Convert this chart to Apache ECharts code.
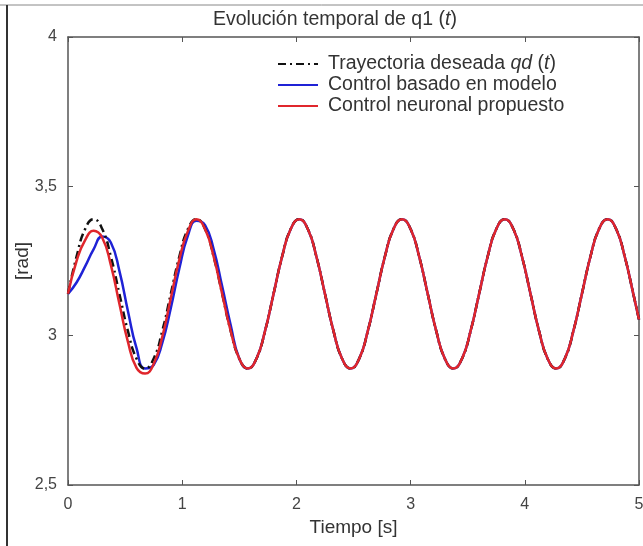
<!DOCTYPE html>
<html>
<head>
<meta charset="utf-8">
<script src="https://cdn.jsdelivr.net/npm/echarts@6/dist/echarts.min.js"></script>
<style>
  html, body { margin: 0; padding: 0; background: #fff; }
  #chart { width: 643px; height: 546px; }
</style>
</head>
<body>
<div id="chart"></div>
<script>
// tiempo [s]
var tiempo = [
  0, 0.075, 0.15, 0.225, 0.3, 0.375, 0.45, 0.525, 0.6, 0.675, 0.75, 0.825,
  0.9, 0.975, 1.05, 1.125, 1.2, 1.275, 1.35, 1.425, 1.5, 1.575, 1.65, 1.725,
  1.8, 1.875, 1.95, 2.025, 2.1, 2.175, 2.25, 2.325, 2.4, 2.475, 2.55, 2.625,
  2.7, 2.775, 2.85, 2.925, 3, 3.075, 3.15, 3.225, 3.3, 3.375, 3.45, 3.525,
  3.6, 3.675, 3.75, 3.825, 3.9, 3.975, 4.05, 4.125, 4.2, 4.275, 4.35, 4.425,
  4.5, 4.575, 4.65, 4.725, 4.8, 4.875, 4.95, 5
];

// trayectoria deseada qd(t) [rad]
var deseada = [
  3.14, 3.265, 3.357, 3.39, 3.357, 3.265, 3.14, 3.015, 2.923, 2.89, 2.923, 3.015,
  3.14, 3.265, 3.357, 3.39, 3.357, 3.265, 3.14, 3.015, 2.923, 2.89, 2.923, 3.015,
  3.14, 3.265, 3.357, 3.39, 3.357, 3.265, 3.14, 3.015, 2.923, 2.89, 2.923, 3.015,
  3.14, 3.265, 3.357, 3.39, 3.357, 3.265, 3.14, 3.015, 2.923, 2.89, 2.923, 3.015,
  3.14, 3.265, 3.357, 3.39, 3.357, 3.265, 3.14, 3.015, 2.923, 2.89, 2.923, 3.015,
  3.14, 3.265, 3.357, 3.39, 3.357, 3.265, 3.14, 3.054
];

// control basado en modelo [rad]
var modelo = [
  3.14, 3.178, 3.232, 3.29, 3.332, 3.312, 3.217, 3.082, 2.958, 2.89, 2.902, 2.975,
  3.092, 3.225, 3.335, 3.385, 3.37, 3.29, 3.165, 3.035, 2.923, 2.89, 2.923, 3.015,
  3.14, 3.265, 3.357, 3.39, 3.357, 3.265, 3.14, 3.015, 2.923, 2.89, 2.923, 3.015,
  3.14, 3.265, 3.357, 3.39, 3.357, 3.265, 3.14, 3.015, 2.923, 2.89, 2.923, 3.015,
  3.14, 3.265, 3.357, 3.39, 3.357, 3.265, 3.14, 3.015, 2.923, 2.89, 2.923, 3.015,
  3.14, 3.265, 3.357, 3.39, 3.357, 3.265, 3.14, 3.054
];

// control neuronal propuesto [rad]
var neuronal = [
  3.14, 3.25, 3.32, 3.351, 3.328, 3.237, 3.107, 2.979, 2.892, 2.873, 2.905, 2.995,
  3.125, 3.255, 3.35, 3.39, 3.357, 3.265, 3.14, 3.015, 2.923, 2.89, 2.923, 3.015,
  3.14, 3.265, 3.357, 3.39, 3.357, 3.265, 3.14, 3.015, 2.923, 2.89, 2.923, 3.015,
  3.14, 3.265, 3.357, 3.39, 3.357, 3.265, 3.14, 3.015, 2.923, 2.89, 2.923, 3.015,
  3.14, 3.265, 3.357, 3.39, 3.357, 3.265, 3.14, 3.015, 2.923, 2.89, 2.923, 3.015,
  3.14, 3.265, 3.357, 3.39, 3.357, 3.265, 3.14, 3.054
];

var nombres = ['Trayectoria deseada', 'Control basado en modelo', 'Control neuronal propuesto'];

function pares(ys) {
  return tiempo.map(function (t, i) { return [t, ys[i]]; });
}

var myChart = echarts.init(document.getElementById('chart'));
var fuente = '"Liberation Sans", Arial, sans-serif';
var gris = '#555';

var ejeX = {
  type: 'value', min: 0, max: 5, interval: 1,
  axisLine: { onZero: false, lineStyle: { color: gris, width: 1.5 } },
  axisTick: { inside: true, length: 5, lineStyle: { color: gris } },
  splitLine: { show: false }
};
var ejeY = {
  type: 'value', min: 2.5, max: 4, interval: 0.5,
  axisLine: { onZero: false, lineStyle: { color: gris, width: 1.5 } },
  axisTick: { inside: true, length: 5, lineStyle: { color: gris } },
  splitLine: { show: false }
};

var option = {
  animation: false,
  textStyle: { fontFamily: fuente },
  title: {
    text: 'Evolución temporal de q1 ({i|t})',
    left: 208, top: 5,
    textStyle: {
      fontFamily: fuente, fontSize: 19.5, fontWeight: 'normal', color: '#333',
      rich: { i: { fontFamily: fuente, fontSize: 19.5, fontStyle: 'italic', color: '#333' } }
    }
  },
  legend: {
    orient: 'vertical',
    left: 272, top: 49,
    itemWidth: 40, itemHeight: 14, itemGap: 1,
    data: nombres,
    itemStyle: { opacity: 0, color: 'rgba(0,0,0,0)', borderWidth: 0 },
    formatter: function (name) {
      return name === nombres[0] ? 'Trayectoria deseada {i|qd} ({i|t})' : name;
    },
    textStyle: {
      fontFamily: fuente, fontSize: 19.5, lineHeight: 20, color: '#333', padding: [0, 0, 0, 5],
      rich: { i: { fontFamily: fuente, fontSize: 19.5, lineHeight: 20, fontStyle: 'italic', color: '#333' } }
    }
  },
  grid: { left: 68, right: 4, top: 37, bottom: 61, outerBoundsMode: 'none' },
  xAxis: [
    Object.assign({}, ejeX, {
      position: 'bottom',
      name: 'Tiempo [s]', nameLocation: 'middle', nameGap: 33, nameMoveOverlap: false,
      nameTextStyle: { fontFamily: fuente, fontSize: 19, color: '#333' },
      axisLabel: { margin: 12, fontFamily: fuente, fontSize: 16, color: '#444' }
    }),
    Object.assign({}, ejeX, { position: 'top', axisLabel: { show: false } })
  ],
  yAxis: [
    Object.assign({}, ejeY, {
      position: 'left',
      name: '[rad]', nameLocation: 'middle', nameGap: 36, nameRotate: 90, nameMoveOverlap: false,
      nameTextStyle: { fontFamily: fuente, fontSize: 19, color: '#333' },
      axisLabel: {
        margin: 11, fontFamily: fuente, fontSize: 16, color: '#444',
        formatter: function (v) { return String(v).replace('.', ','); }
      }
    }),
    Object.assign({}, ejeY, { position: 'right', axisLabel: { show: false } })
  ],
  graphic: [
    { type: 'line', shape: { x1: 0, y1: 5, x2: 643, y2: 5 }, style: { stroke: '#888', lineWidth: 1 } },
    { type: 'line', shape: { x1: 7, y1: 5, x2: 7, y2: 546 }, style: { stroke: '#333', lineWidth: 2 } }
  ],
  series: [
    {
      name: nombres[0], type: 'line', data: pares(deseada), smooth: 0.5,
      symbol: 'none', z: 3,
      lineStyle: { color: '#111', width: 2.5, type: [8, 4, 2, 4] },
      itemStyle: { color: '#111' }
    },
    {
      name: nombres[1], type: 'line', data: pares(modelo), smooth: 0.5,
      symbol: 'none', z: 2,
      lineStyle: { color: '#1f22d6', width: 2.5 },
      itemStyle: { color: '#1f22d6' }
    },
    {
      name: nombres[2], type: 'line', data: pares(neuronal), smooth: 0.5,
      symbol: 'none', z: 4,
      lineStyle: { color: '#e0262c', width: 2.5 },
      itemStyle: { color: '#e0262c' }
    }
  ]
};
myChart.setOption(option);
</script>
</body>
</html>
